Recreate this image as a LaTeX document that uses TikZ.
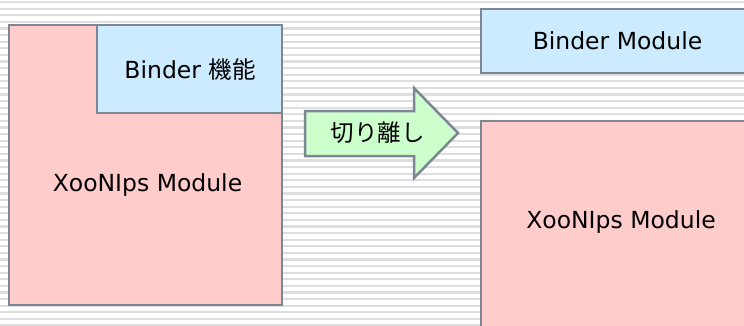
\documentclass[tikz,border=0pt]{standalone}
\usepackage{fontspec}
\setmainfont{DejaVu Sans}
\newfontfamily\jpfont{Noto Sans CJK JP}
\definecolor{modpink}{HTML}{FFCCCC}
\definecolor{modblue}{HTML}{CCEBFF}
\definecolor{cutgreen}{HTML}{CCFFCC}
\definecolor{edgegray}{HTML}{7D8793}
\definecolor{stripegray}{HTML}{DEDEDE}
\usetikzlibrary{calc, positioning}

\tikzset{
  modbox/.style={draw=edgegray, line width=2.5pt},
  modtext/.style={inner sep=0pt, font=\fontsize{23.5}{26}\selectfont},
}

\begin{document}
\begin{tikzpicture}[x=1pt, y=-1pt]
			\clip (0,0) rectangle (744,325);
			\fill[white] (0,0) rectangle (744,325);
			\foreach \k in {0,...,49}
				\fill[stripegray] (0,{1+6.6*\k}) rectangle (744,{3.2+6.6*\k});
			
			\begin{scope}
				\draw[modbox, fill=modpink] (9,25) rectangle (282,305);
				\draw[modbox, fill=modblue] (97,25) rectangle (282,113);
				\node[modtext] (binderfn) at (190,70) {Binder {\jpfont 機能}};
				\node[modtext] (xooleft) at (147.5,185) {XooNIps Module};
			\end{scope}
			
			\begin{scope}
				\draw[modbox, fill=cutgreen] (305,111) -- (414,111) -- (414,88) -- (458,133)
					-- (414,178) -- (414,156) -- (305,156) -- cycle;
				\node[modtext] (cut) at (377.5,133) {\jpfont 切り離し};
			\end{scope}
			
			\begin{scope}
				\draw[modbox, fill=modblue] (481,9) rectangle (760,73);
				\draw[modbox, fill=modpink] (481,121) rectangle (760,340);
				\node[modtext] (bindermod) at (617.5,41) {Binder Module};
				\node[modtext] (xooright) at (621,222) {XooNIps Module};
			\end{scope}
		\end{tikzpicture}
\end{document}
